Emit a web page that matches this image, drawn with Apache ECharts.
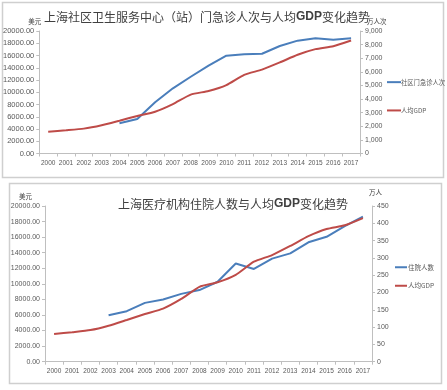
<!DOCTYPE html>
<html><head><meta charset="utf-8">
<script src="https://cdn.jsdelivr.net/npm/echarts@6/dist/echarts.min.js"></script>
<style>html,body{margin:0;padding:0;background:#fff}#c{width:447px;height:390px}</style>
</head><body><div id="c"></div>
<script>
const years = ['2000','2001','2002','2003','2004','2005','2006','2007','2008','2009','2010','2011','2012','2013','2014','2015','2016','2017'];
const gdp = [3560,3790,4060,4620,5360,6120,6820,8060,9620,10200,11160,12840,13700,14870,16120,17040,17520,18450];
const visits = [null,null,null,null,2220,2540,3760,4790,5640,6450,7190,7290,7330,7900,8290,8460,8360,8460];
const inpatients = [null,null,null,134,146,170,180,196,207,231,284,268,298,313,345,361,392,419];
const leftTicks = {min:0, max:20000, interval:2000};
const rightTicksTop = {min:0, max:9000, interval:1000};
const rightTicksBottom = {min:0, max:450, interval:50};

const BLUE = '#4a7ebb', RED = '#be4b48';
const NARROW = '"Liberation Sans Narrow","Liberation Sans",sans-serif';
const CJK = '"Noto Sans CJK SC",sans-serif';
const axisLineC = '#bfbfbf', labelC = '#595959';

function comma(v){return String(v).replace(/\B(?=(\d{3})+(?!\d))/g, ',');}

const chart = echarts.init(document.getElementById('c'), null, {renderer:'canvas'});

function xAx(gi, fs){
  return {type:'category', gridIndex:gi, data:years, boundaryGap:true,
    axisLine:{lineStyle:{color:axisLineC}},
    axisTick:{show:true, length:3, lineStyle:{color:axisLineC}},
    axisLabel:{interval:0, color:labelC, fontSize:fs, fontFamily:NARROW, margin:6}};
}
function yAx(gi, pos, t, fmt, fs, name, nameStyle){
  return {type:'value', gridIndex:gi, position:pos, min:t.min, max:t.max, interval:t.interval,
    name:name, nameLocation:'end', nameGap:6, nameTextStyle:nameStyle,
    splitLine:{show:false},
    axisLine:{show:true, lineStyle:{color:axisLineC}},
    axisTick:{show:true, length:3, lineStyle:{color:axisLineC}},
    axisLabel:{color:labelC, fontSize:fs, fontFamily:NARROW, margin:5, formatter:fmt}};
}
const titleStyle = {fontSize:12, fontWeight:'normal', color:'#404040', fontFamily:CJK,
  rich:{b:{fontSize:12, fontWeight:'bold', color:'#404040', fontFamily:'"Liberation Sans",sans-serif'}}};

chart.setOption({
  animation:false,
  backgroundColor:'#fff',
  graphic:[
    {type:'rect', shape:{x:2.5,y:2.5,width:441,height:175}, style:{fill:'none', stroke:'#cfcfcf', lineWidth:1.5}},
    {type:'rect', shape:{x:9.5,y:183.5,width:432,height:200}, style:{fill:'none', stroke:'#cfcfcf', lineWidth:1.5}}
  ],
  title:[
    {text:'上海社区卫生服务中心（站）门急诊人次与人均{b|GDP}变化趋势', left:202, top:6, textAlign:'center', textStyle:titleStyle},
    {text:'上海医疗机构住院人数与人均{b|GDP}变化趋势', left:228, top:193, textAlign:'center', textStyle:titleStyle}
  ],
  legend:[
    {data:['社区门急诊人次','人均GDP'], orient:'vertical', left:382, top:74, itemGap:22,
     icon:'rect', itemWidth:14, itemHeight:2, textStyle:{fontSize:6.3, color:labelC, fontFamily:CJK, padding:[0,0,0,-5]}},
    {data:['住院人数',{name:'人均GDP '}], orient:'vertical', left:390, top:259, itemGap:12,
     icon:'rect', itemWidth:12, itemHeight:2, textStyle:{fontSize:6.5, color:labelC, fontFamily:CJK, padding:[0,0,0,-4]}}
  ],
  grid:[
    {left:39, right:87, top:31, height:122.5, containLabel:false},
    {left:45, right:75, top:206, height:155.7, containLabel:false}
  ],
  xAxis:[xAx(0,6.5), xAx(1,6.5)],
  yAxis:[
    yAx(0,'left',leftTicks,v=>v.toFixed(2),7.5,'美元',{fontSize:6.5,color:'#404040',fontFamily:CJK,align:'right',padding:[0,-2,0,0]}),
    yAx(0,'right',rightTicksTop,v=>comma(v),7,'万人次',{fontSize:6.5,color:'#404040',fontFamily:CJK,align:'left',padding:[0,0,0,7]}),
    yAx(1,'left',leftTicks,v=>v.toFixed(2),7,'美元',{fontSize:6.5,color:'#404040',fontFamily:CJK,align:'right',padding:[0,13,0,0]}),
    yAx(1,'right',rightTicksBottom,v=>String(v),7,'万人',{fontSize:6.5,color:'#404040',fontFamily:CJK,align:'left',padding:[0,0,4,-3]})
  ],
  series:[
    {name:'社区门急诊人次', type:'line', xAxisIndex:0, yAxisIndex:1, data:visits, showSymbol:false, symbol:'none',
     lineStyle:{color:BLUE, width:2}, itemStyle:{color:BLUE}},
    {name:'人均GDP', type:'line', xAxisIndex:0, yAxisIndex:0, data:gdp, showSymbol:false, symbol:'none', smooth:0.2,
     lineStyle:{color:RED, width:2}, itemStyle:{color:RED}},
    {name:'住院人数', type:'line', xAxisIndex:1, yAxisIndex:3, data:inpatients, showSymbol:false, symbol:'none',
     lineStyle:{color:BLUE, width:2}, itemStyle:{color:BLUE}},
    {name:'人均GDP ', type:'line', xAxisIndex:1, yAxisIndex:2, data:gdp, showSymbol:false, symbol:'none', smooth:0.2,
     lineStyle:{color:RED, width:2}, itemStyle:{color:RED}}
  ]
});
</script></body></html>
